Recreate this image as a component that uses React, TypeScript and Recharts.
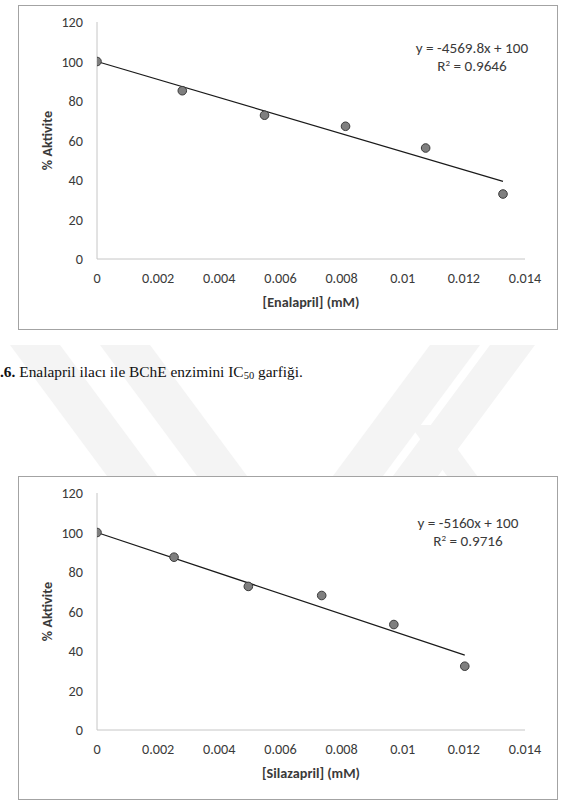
import { Label, ReferenceLine, Scatter, ScatterChart, XAxis, YAxis } from "recharts";

// Enalapril (top chart)
const enalaprilConc = [0, 0.00279, 0.00548, 0.00813, 0.01075, 0.01328];
const enalaprilActivity = [100, 85.2, 72.8, 67.2, 56.2, 32.9];
const enalaprilSlope = -4569.8;
const enalaprilIntercept = 100;
const enalaprilR2 = "0.9646";

// Silazapril (bottom chart)
const silazaprilConc = [0, 0.00252, 0.00495, 0.00735, 0.00971, 0.01203];
const silazaprilActivity = [100, 87.5, 72.7, 68.1, 53.4, 32.3];
const silazaprilSlope = -5160;
const silazaprilIntercept = 100;
const silazaprilR2 = "0.9716";

const xTicks = [0, 0.002, 0.004, 0.006, 0.008, 0.01, 0.012, 0.014];
const yTicks = [0, 20, 40, 60, 80, 100, 120];
const yLabel = "% Aktivite";

const font = "Carlito, Lato, 'Liberation Sans', sans-serif";
const axisGray = "#c6c6c6";
const textGray = "#3a3a3a";
const fs = 14.2;

function IcChart({
  conc,
  activity,
  slope,
  intercept,
  r2,
  xTitle,
  height,
  bottom,
  eqLeft,
  eqTop,
}: {
  conc: number[];
  activity: number[];
  slope: number;
  intercept: number;
  r2: string;
  xTitle: string;
  height: number;
  bottom: number;
  eqLeft: number;
  eqTop: number;
}) {
  const data = conc.map((x, i) => ({ x, y: activity[i] }));
  const xEnd = conc[conc.length - 1];

  return (
    <div style={{ position: "relative", width: 538, height }}>
      <ScatterChart
        width={538}
        height={height}
        margin={{ top: 16, right: 32, bottom, left: 0 }}
        style={{ fontFamily: font }}
      >
        <XAxis
          type="number"
          dataKey="x"
          domain={[0, 0.014]}
          ticks={xTicks}
          tickFormatter={(v: number) => String(v)}
          height={50}
          stroke={axisGray}
          tickLine={false}
          tickSize={0}
          tickMargin={14}
          tick={{ fill: textGray, fontSize: fs }}
          allowDataOverflow
        >
          <Label
            content={(p: any) => {
              const vb = p.viewBox;
              return (
                <text
                  x={vb.x + vb.width / 2}
                  y={vb.y + 43}
                  textAnchor="middle"
                  dominantBaseline="central"
                  fontSize={fs}
                  fontWeight="bold"
                  fill={textGray}
                >
                  {xTitle}
                </text>
              );
            }}
          />
        </XAxis>
        <YAxis
          type="number"
          dataKey="y"
          domain={[0, 120]}
          ticks={yTicks}
          width={78}
          stroke={axisGray}
          tickLine={false}
          tickSize={0}
          tickMargin={14}
          tick={{ fill: textGray, fontSize: fs }}
        >
          <Label
            content={(p: any) => {
              const vb = p.viewBox;
              const cx = vb.x + 28;
              const cy = vb.y + vb.height / 2;
              return (
                <text
                  x={cx}
                  y={cy}
                  transform={`rotate(-90 ${cx} ${cy})`}
                  textAnchor="middle"
                  dominantBaseline="central"
                  fontSize={fs}
                  fontWeight="bold"
                  fill={textGray}
                >
                  {yLabel}
                </text>
              );
            }}
          />
        </YAxis>
        <ReferenceLine
          segment={[
            { x: 0, y: intercept },
            { x: xEnd, y: intercept + slope * xEnd },
          ]}
          stroke="#1a1a1a"
          strokeWidth={1.2}
          ifOverflow="visible"
        />
        <Scatter
          data={data}
          fill="#7f7f7f"
          shape={(p: any) => (
            <circle cx={p.cx} cy={p.cy} r={4.3} fill="#7f7f7f" stroke="#3a3a3a" strokeWidth={1} />
          )}
          isAnimationActive={false}
        />
      </ScatterChart>
      <div
        style={{
          position: "absolute",
          left: eqLeft - 90,
          top: eqTop,
          width: 180,
          textAlign: "center",
          fontFamily: font,
          fontSize: 15.2,
          lineHeight: "18px",
          color: textGray,
        }}
      >
        <div>{`y = ${slope}x + ${intercept}`}</div>
        <div>
          R<sup style={{ fontSize: 9, lineHeight: 0, verticalAlign: "5px" }}>2</sup>
          {` = ${r2}`}
        </div>
      </div>
    </div>
  );
}

function Watermark() {
  const c = "#f4f4f4";
  return (
    <svg width={563} height={804} style={{ position: "absolute", left: 0, top: 0 }}>
      <polygon points="10,345 60,345 160,480 110,480" fill={c} />
      <polygon points="100,345 150,345 250,480 200,480" fill={c} />
      <polygon points="430,345 480,345 380,480 330,480" fill={c} />
      <polygon points="490,345 535,345 435,480 390,480" fill={c} />
      <polygon points="410,425 440,425 480,480 450,480" fill={c} />
    </svg>
  );
}

export default function App() {
  return (
    <div
      style={{
        position: "absolute",
        left: 0,
        top: 0,
        width: 563,
        height: 804,
        background: "#fff",
        overflow: "hidden",
      }}
    >
      <Watermark />
      <div
        style={{
          position: "absolute",
          left: 18,
          top: 5,
          width: 540,
          height: 325,
          boxSizing: "border-box",
          border: "1px solid #a3a3a3",
          background: "#fff",
        }}
      >
        <IcChart
          conc={enalaprilConc}
          activity={enalaprilActivity}
          slope={enalaprilSlope}
          intercept={enalaprilIntercept}
          r2={enalaprilR2}
          xTitle="[Enalapril] (mM)"
          height={323}
          bottom={20}
          eqLeft={453}
          eqTop={33}
        />
      </div>
      <div
        style={{
          position: "absolute",
          left: 0,
          top: 360,
          fontFamily: "'Liberation Serif', 'Times New Roman', serif",
          fontSize: 15.4,
          lineHeight: "24px",
          color: "#111",
          whiteSpace: "nowrap",
        }}
      >
        <b>.6.</b> Enalapril ilacı ile BChE enzimini IC
        <sub style={{ fontSize: 10.5, lineHeight: 0, verticalAlign: "-2px" }}>50</sub> garfiği.
      </div>
      <div
        style={{
          position: "absolute",
          left: 18,
          top: 476,
          width: 540,
          height: 324,
          boxSizing: "border-box",
          border: "1px solid #a3a3a3",
          background: "#fff",
        }}
      >
        <IcChart
          conc={silazaprilConc}
          activity={silazaprilActivity}
          slope={silazaprilSlope}
          intercept={silazaprilIntercept}
          r2={silazaprilR2}
          xTitle="[Silazapril] (mM)"
          height={322}
          bottom={19}
          eqLeft={449}
          eqTop={37}
        />
      </div>
    </div>
  );
}
